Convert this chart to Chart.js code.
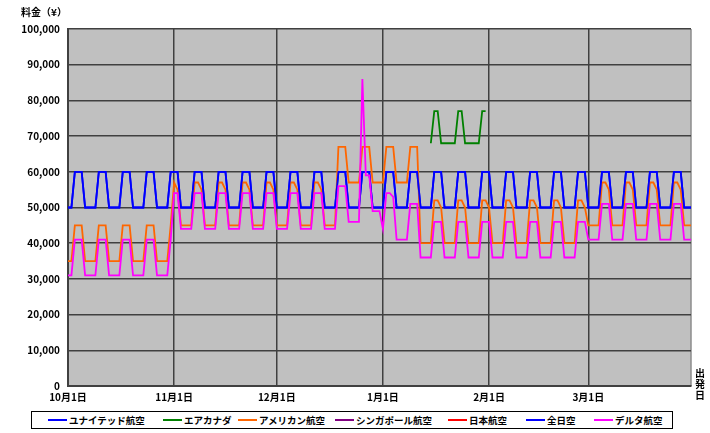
<!DOCTYPE html>
<html><head><meta charset="utf-8">
<script src="https://cdn.jsdelivr.net/npm/chart.js@4/dist/chart.umd.min.js"></script>
<style>
body{margin:0;background:#fff;font-family:'Noto Sans CJK JP',sans-serif;}
#wrap{position:relative;width:710px;height:433px;overflow:hidden}
#c{position:absolute;left:0;top:0}
.t{position:absolute;font-weight:bold;color:#000;white-space:nowrap}
#legend{position:absolute;left:31px;top:411px;width:640px;height:16px;border:1px solid #000;background:#fff}
.li{position:absolute;top:0;height:16px;display:flex;align-items:center;font-size:9.5px;font-weight:bold}
.li i{display:inline-block;width:19px;height:2px;margin-right:2px}
</style></head>
<body><div id="wrap">
<canvas id="c" width="710" height="433"></canvas>
<div class="t" style="left:21px;top:4px;font-size:10px">料金（¥）</div>
<div class="t" style="left:695px;top:367px;font-size:10px;line-height:11px;text-align:center;width:10px">出<br>発<br>日</div>
<div id="legend"></div>
</div>
<script>
// ---- categories (days from Oct 1 to Mar 31) ----
const months = [10, 11, 12, 1, 2, 3];
const monthLengths = [31, 30, 31, 31, 29, 31];
const categories = [];
months.forEach((m, i) => { for (let d = 1; d <= monthLengths[i]; d++) categories.push(m + '月' + d + '日'); });

// ---- series values (yen), one value per day ----
const united = [
50000,50000,60000,60000,60000,50000,50000, 50000,50000,60000,60000,60000,50000,50000,
50000,50000,60000,60000,60000,50000,50000, 50000,50000,60000,60000,60000,50000,50000,
50000,50000,60000,60000,60000,50000,50000, 50000,50000,60000,60000,60000,50000,50000,
50000,50000,60000,60000,60000,50000,50000, 50000,50000,60000,60000,60000,50000,50000,
50000,50000,60000,60000,60000,50000,50000, 50000,50000,60000,60000,60000,50000,50000,
50000,50000,60000,60000,60000,50000,50000, 50000,50000,60000,60000,60000,50000,50000,
50000,50000,60000,60000,60000,50000,50000, 50000,50000,60000,60000,60000,50000,50000,
50000,50000,60000,60000,60000,50000,50000, 50000,50000,60000,60000,60000,50000,50000,
50000,50000,60000,60000,60000,50000,50000, 50000,50000,60000,60000,60000,50000,50000,
50000,50000,60000,60000,60000,50000,50000, 50000,50000,60000,60000,60000,50000,50000,
50000,50000,60000,60000,60000,50000,50000, 50000,50000,60000,60000,60000,50000,50000,
50000,50000,60000,60000,60000,50000,50000, 50000,50000,60000,60000,60000,50000,50000,
50000,50000,60000,60000,60000,50000,50000, 50000,50000,60000,60000,60000,50000,50000,
50000];
const airCanadaStartDay = 106;
const airCanada = [68000,77000,77000,68000,68000,68000,68000,68000,77000,77000,68000,68000,68000,68000,68000,77000,77000];
const american = [
35000,35000,45000,45000,45000,35000,35000, 35000,35000,45000,45000,45000,35000,35000,
35000,35000,45000,45000,45000,35000,35000, 35000,35000,45000,45000,45000,35000,35000,
35000,35000,45000,57000,55000,45000,45000, 45000,45000,57000,57000,55000,45000,45000,
45000,45000,57000,57000,55000,45000,45000, 45000,45000,57000,57000,55000,45000,45000,
45000,45000,57000,57000,55000,45000,45000, 45000,45000,57000,57000,55000,45000,45000,
45000,45000,57000,57000,55000,45000,45000, 45000,45000,67000,67000,67000,57000,57000,
57000,57000,67000,67000,67000,57000,57000, 57000,57000,67000,67000,67000,57000,57000,
57000,57000,67000,67000,67000,40000,40000, 40000,40000,52000,52000,50000,40000,40000,
40000,40000,52000,52000,50000,40000,40000, 40000,40000,52000,52000,50000,40000,40000,
40000,40000,52000,52000,50000,40000,40000, 40000,40000,52000,52000,50000,40000,40000,
40000,40000,52000,52000,50000,40000,40000, 40000,40000,52000,52000,50000,45000,45000,
45000,45000,57000,57000,55000,45000,45000, 45000,45000,57000,57000,55000,45000,45000,
45000,45000,57000,57000,55000,45000,45000, 45000,45000,57000,57000,55000,45000,45000,
45000];
const singapore = [];
const jal = [];
const ana = united;
const delta = [
31000,31000,41000,41000,41000,31000,31000, 31000,31000,41000,41000,41000,31000,31000,
31000,31000,41000,41000,41000,31000,31000, 31000,31000,41000,41000,41000,31000,31000,
31000,31000,41000,54000,54000,44000,44000, 44000,44000,54000,54000,54000,44000,44000,
44000,44000,54000,54000,54000,44000,44000, 44000,44000,54000,54000,54000,44000,44000,
44000,44000,54000,54000,54000,44000,44000, 44000,44000,54000,54000,54000,44000,44000,
44000,44000,54000,54000,54000,44000,44000, 44000,44000,56000,56000,56000,46000,46000,
46000,46000,86000,59000,59000,49000,49000, 49000,44000,54000,54000,53000,41000,41000,
41000,41000,51000,51000,51000,36000,36000, 36000,36000,46000,46000,46000,36000,36000,
36000,36000,46000,46000,46000,36000,36000, 36000,36000,46000,46000,46000,36000,36000,
36000,36000,46000,46000,46000,36000,36000, 36000,36000,46000,46000,46000,36000,36000,
36000,36000,46000,46000,46000,36000,36000, 36000,36000,46000,46000,46000,41000,41000,
41000,41000,51000,51000,51000,41000,41000, 41000,41000,51000,51000,51000,41000,41000,
41000,41000,51000,51000,51000,41000,41000, 41000,41000,51000,51000,51000,41000,41000,
41000];

const seriesNames = ['ユナイテッド航空','エアカナダ','アメリカン航空','シンガポール航空','日本航空','全日空','デルタ航空'];
const seriesColors = ['#0000FF','#008000','#FF6600','#800080','#FF0000','#0000FF','#FF00FF'];
const yTickValues = [0,10000,20000,30000,40000,50000,60000,70000,80000,90000,100000];

const padStart = (arr, start) => { const out = new Array(start).fill(null); return out.concat(arr); };
const seriesData = [united, padStart(airCanada, airCanadaStartDay), american, singapore, jal, ana, delta];

const legendPos = [48, 163, 238, 335, 448, 526, 594];
const lg = document.getElementById('legend');
seriesNames.forEach((n, i) => {
  const d = document.createElement('div'); d.className = 'li';
  d.style.left = (legendPos[i] - 32) + 'px';
  d.innerHTML = '<i style="background:' + seriesColors[i] + '"></i>' + n;
  lg.appendChild(d);
});

const isMonthStart = i => /月1日$/.test(categories[i] || '');
const bgPlugin = {
  id: 'bg',
  beforeDraw(chart) {
    const {ctx, chartArea: a} = chart;
    ctx.save(); ctx.fillStyle = '#C0C0C0';
    ctx.fillRect(a.left, a.top, a.right - a.left, a.bottom - a.top);
    ctx.strokeStyle = '#8c8c8c'; ctx.lineWidth = 1.5;
    ctx.beginPath(); ctx.moveTo(a.right, a.top); ctx.lineTo(a.right, a.bottom); ctx.stroke();
    ctx.restore();
  }
};

Chart.defaults.font.family = "'Noto Sans CJK JP', sans-serif";
Chart.defaults.color = '#000';
new Chart(document.getElementById('c'), {
  type: 'line',
  data: {
    labels: categories,
    datasets: seriesNames.map((n, i) => ({
      label: n, data: seriesData[i], borderColor: seriesColors[i], backgroundColor: seriesColors[i],
      borderWidth: 1.8, pointRadius: 0, tension: 0, fill: false, spanGaps: false, order: 6 - i
    }))
  },
  options: {
    responsive: false, animation: false, devicePixelRatio: 1,
    layout: {padding: {top: 29, right: 19, bottom: 0, left: 0}},
    plugins: {legend: {display: false}, tooltip: {enabled: false}},
    scales: {
      x: {
        type: 'category', offset: false,
        afterFit(s) { s.height = 47; },
        grid: {color: c => isMonthStart(c.index) ? '#404040' : 'rgba(0,0,0,0)', lineWidth: 1.5, drawTicks: false},
        border: {color: '#404040', width: 2},
        ticks: {autoSkip: false, maxRotation: 0, minRotation: 0, padding: 5,
          font: {size: 10, weight: 'bold'},
          callback(v, i) { return isMonthStart(i) ? categories[i] : ''; }}
      },
      y: {
        min: 0, max: 100000,
        afterFit(s) { s.width = 68; },
        afterBuildTicks(s) { s.ticks = yTickValues.map(v => ({value: v})); },
        grid: {color: '#404040', lineWidth: 1.5, drawTicks: false},
        border: {color: '#404040', width: 2},
        ticks: {padding: 8, font: {size: 10, weight: 'bold'},
          callback: v => v.toLocaleString('en-US')}
      }
    }
  },
  plugins: [bgPlugin]
});
</script>
</body></html>
